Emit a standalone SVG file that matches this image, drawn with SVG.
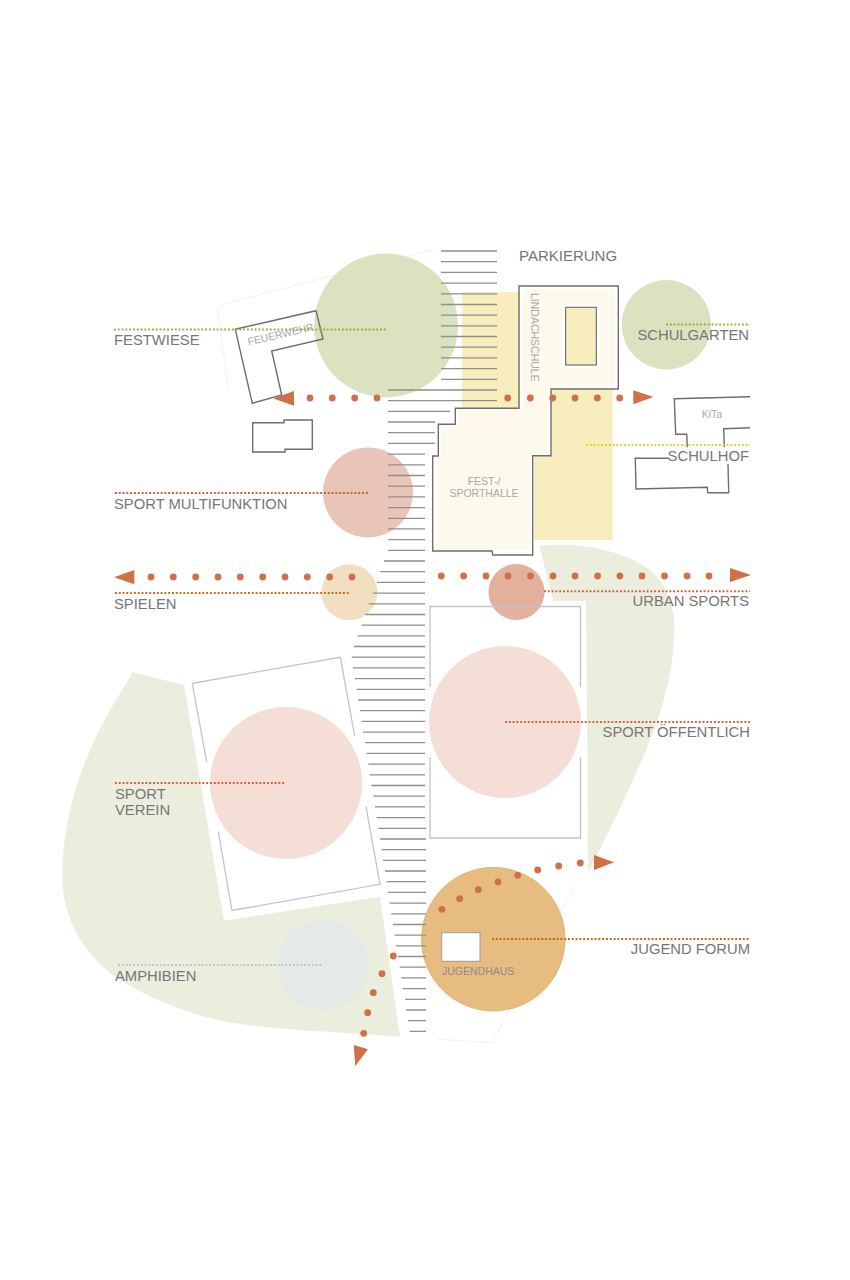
<svg xmlns="http://www.w3.org/2000/svg" width="850" height="1280" viewBox="0 0 850 1280">
<style>
text{font-family:"Liberation Sans",Arial,sans-serif}
.lb{font-size:14.8px;fill:#767676}
.sm{font-size:10.5px;fill:#a8a8a8}
.bld{fill:none;stroke:#6e6e6e;stroke-width:1.4}
.fld{fill:none;stroke:#c4c4c4;stroke-width:1.3}
.faint{fill:none;stroke:#e6e6e6;stroke-width:1;stroke-dasharray:1.5 1.5}
.dl{fill:none;stroke-width:1.9;stroke-dasharray:1.9 1.9}
.dot{fill:#cf7049}
.dot circle{r:3.4px}
.yel{fill:#f8edbd}
.gr{fill:#ebeedd}
</style>
<rect width="850" height="1280" fill="#fff"/>
<g id="backgrounds">
<path class="gr" d="M539.3,545.7C575,542 620,548 650,570C668,585 675,610 674.3,630C674,665 665,705 650,740C632,785 610,830 588.3,872L586,601H553.3Z"/>
<path class="gr" d="M132.7,672.3L184,685L224,920.7L380,896.7L400,1036.7C345,1032 290,1031 233,1023C190,1016 140,995 110,973C80,948 62,915 62.3,875C62.5,830 75,785 88,755C100,725 118,697 132.7,672.3Z"/>
<path class="yel" d="M462,292H520V408H462Z"/>
<path class="yel" d="M551,389H612.7V540H534V456H551Z"/>
</g>
<g id="site-outlines">
<path class="faint" d="M435,249L224,304Q217,306 218,312L228,387"/>
<path class="faint" d="M574,887L492,1043L437,1039"/>
</g>
<g id="festwiese"><circle cx="386" cy="325.5" r="72" fill="#dbe2bf"/></g>
<g id="schulgarten"><circle cx="666.3" cy="324.7" r="44.7" fill="#dbe2bf"/></g>
<g id="sport-multifunktion"><circle cx="368" cy="492.5" r="45" fill="#e8c5b7"/></g>
<g id="spielen"><circle cx="349.3" cy="592.3" r="28" fill="#f2dfc2"/></g>
<g id="urban-sports"><circle cx="516.5" cy="592" r="28" fill="#e3b09c"/></g>
<g id="sport-verein-field">
<path class="fld" d="M206.7,762L192.3,683.3L340.3,657.3L354.7,736M366,806.7L380,884.3L232,910.5L218.3,831.7"/>
<circle cx="286" cy="783" r="76" fill="#f4ded6"/>
</g>
<g id="sport-oeffentlich-field">
<path class="fld" d="M430,687V606.5H580.5V687M430,757V838H580.5V757"/>
<circle cx="505" cy="722" r="76" fill="#f4ded6"/>
</g>
<g id="amphibien"><circle cx="323" cy="965" r="45.5" fill="#e3eae8"/></g>
<g id="jugend-forum"><circle cx="493.3" cy="939.2" r="71.7" fill="#e6bc80" stroke="#e4b26c" stroke-width="1"/></g>
<g id="parkierung-stripes">
<path fill="none" stroke="#8f8f8f" stroke-width="1.3" d="M441,251H497M441,261.7H497M441,272.4H497M441,283.1H497M441,293.8H497M441,304.5H497M441,315.1H497M441,325.8H497M441,336.5H497M441,347.2H497M441,357.9H497M441,368.6H497M441,379.3H497M388,390H497M388,400.7H497M388,411.4H450M388,422H435M388,432.7H435M388,443.4H435M388,454.1H425M388,464.8H425M388,475.5H425M388,486.2H425M388,496.9H425M388,507.6H425M388,518.3H425M388,528.9H425M388.7,539.6H425M388,550.3H425M384,561H425M380.3,571.7H425M377,582.4H425M373,593.1H425M369,603.8H425M365.3,614.5H425M361.7,625.2H425M357.7,635.8H425M354,646.5H425M351.7,657.2H425M353,667.9H425M355,678.6H425M356.7,689.3H425M358.3,700H425M360,710.7H425M361.7,721.4H425M363,732.1H425M365,742.7H425M366.7,753.4H425M368.3,764.1H425M369.7,774.8H425M371.3,785.5H425M373.3,796.2H425M375,806.9H425M376.7,817.6H425M378.3,828.3H426M380,839H426M381.7,849.6H426M383,860.3H426M385,871H426M386.7,881.7H426M388,892.4H426M389.7,903.1H426M391.3,913.8H426M393,924.5H426M394.7,935.2H426M396,945.9H426M398,956.5H426M399.7,967.2H426M401.3,977.9H426M403,988.6H426M405,999.3H426M406.3,1010H426M408,1020.7H426M409.7,1031.4H426"/>
</g>
<g id="lindachschule">
<path d="M522,289H615V386H548.5V453H530V550H436V459H441V427H458V411H522Z" fill="#fdf9ec"/>
<path class="bld" d="M519,286H618.3V389H551V455.7H532.7V555H492.7L492,551H432.7V456H438.3V424.3H455.3V408.3H519Z"/>
<rect x="562" y="304" width="38" height="64" fill="#fff"/>
<rect x="565.7" y="307.3" width="30.6" height="57.7" fill="#f8edbd" stroke="#5a5a5a" stroke-width="1"/>
<text class="sm" transform="translate(530.5,293) rotate(90)">LINDACHSCHULE</text>
<text class="sm" x="484" y="485" text-anchor="middle">FEST-/</text>
<text class="sm" x="484" y="497" text-anchor="middle">SPORTHALLE</text>
</g>
<g id="feuerwehr">
<path class="bld" d="M235.3,329.3L316,310.7L323,339L271.7,351L281.7,395L252.3,403.3Z"/>
<text class="sm" transform="translate(248.5,345.5) rotate(-13)">FEUERWEHR</text>
</g>
<g id="nebenbau"><path class="bld" d="M252.7,422.7H284V420H312.3V449.3H285V452H252.7Z"/></g>
<g id="kita">
<path class="bld" d="M750,396.7L674.3,398.7L675.7,434.3H686.7L687.3,447.3M724.3,447.3L723.7,428.7L750,427.7M669,458.3H635.3L636,489L707.3,487.3L707.7,492.7H728.7L728,464"/>
<text class="sm" x="712" y="418" text-anchor="middle">KiTa</text>
</g>
<g id="jugendhaus">
<rect x="441.7" y="932.7" width="38.3" height="28.6" fill="#fff" stroke="#9a9a9a" stroke-width="1"/>
<text class="sm" x="442" y="975" style="fill:#8c8c8c">JUGENDHAUS</text>
</g>
<g id="connectors">
<path class="dl" stroke="#9aaf3c" d="M114,329.5H386"/>
<path class="dl" stroke="#9aaf3c" d="M666,324.5H750"/>
<path class="dl" stroke="#eec92f" d="M586,445H750"/>
<path class="dl" stroke="#c9603c" d="M115,493H369"/>
<path class="dl" stroke="#cf6b12" d="M115,593H350"/>
<path class="dl" stroke="#cf6040" d="M544,591.3H750"/>
<path class="dl" stroke="#cf6040" d="M505,722H750"/>
<path class="dl" stroke="#cf6040" d="M115,783H286"/>
<path class="dl" stroke="#b4c4d0" d="M118,965H323"/>
<path class="dl" stroke="#c9640c" d="M492,939H750"/>
<g class="dot">
<circle cx="310" cy="398" r="3.4"/><circle cx="332.3" cy="398" r="3.4"/><circle cx="354.7" cy="398" r="3.4"/><circle cx="377" cy="398" r="3.4"/>
<circle cx="507.7" cy="398" r="3.4"/><circle cx="530.3" cy="398" r="3.4"/><circle cx="552.7" cy="398" r="3.4"/><circle cx="575" cy="398" r="3.4"/><circle cx="597.3" cy="398" r="3.4"/><circle cx="619.7" cy="398" r="3.4"/>
<circle cx="151" cy="577" r="3.4"/><circle cx="173.3" cy="577" r="3.4"/><circle cx="195.7" cy="577" r="3.4"/><circle cx="218" cy="577" r="3.4"/><circle cx="240.3" cy="577" r="3.4"/><circle cx="262.7" cy="577" r="3.4"/><circle cx="285" cy="577" r="3.4"/><circle cx="307.3" cy="577" r="3.4"/><circle cx="329.7" cy="577" r="3.4"/><circle cx="352" cy="577" r="3.4"/>
<circle cx="441.3" cy="576" r="3.4"/><circle cx="463.6" cy="576" r="3.4"/><circle cx="486" cy="576" r="3.4"/><circle cx="508" cy="576" r="3.4"/><circle cx="530.6" cy="576" r="3.4"/><circle cx="553" cy="576" r="3.4"/><circle cx="575" cy="576" r="3.4"/><circle cx="597.6" cy="576" r="3.4"/><circle cx="619.9" cy="576" r="3.4"/><circle cx="642" cy="576" r="3.4"/><circle cx="664.5" cy="576" r="3.4"/><circle cx="687" cy="576" r="3.4"/><circle cx="709" cy="576" r="3.4"/>
<circle cx="442" cy="909.3" r="3.4"/><circle cx="459.7" cy="898.7" r="3.4"/><circle cx="478.3" cy="889.7" r="3.4"/><circle cx="498" cy="882" r="3.4"/><circle cx="517.7" cy="875.3" r="3.4"/><circle cx="537.7" cy="870" r="3.4"/><circle cx="558.7" cy="866" r="3.4"/><circle cx="580.3" cy="863" r="3.4"/>
<circle cx="393.3" cy="956" r="3.4"/><circle cx="382" cy="973.7" r="3.4"/><circle cx="373.3" cy="992.7" r="3.4"/><circle cx="367.7" cy="1012.7" r="3.4"/><circle cx="363.7" cy="1033.3" r="3.4"/>
<path d="M273.3,398.5L294,391V405.7Z"/>
<path d="M633.3,390.3V404.3L653.3,397Z"/>
<path d="M114,577.3L134.3,570V584.3Z"/>
<path d="M730,568V582L751,575Z"/>
<path d="M594,855V870L614,862.3Z"/>
<path d="M353.7,1045L368,1049.3L355.3,1066Z"/>
</g>
</g>
<g id="labels">
<text class="lb" x="519" y="261" style="font-size:15px">PARKIERUNG</text>
<text class="lb" x="114" y="345">FESTWIESE</text>
<text class="lb" x="749" y="340" text-anchor="end">SCHULGARTEN</text>
<text class="lb" x="749" y="460.5" text-anchor="end">SCHULHOF</text>
<text class="lb" x="114" y="509">SPORT MULTIFUNKTION</text>
<text class="lb" x="114" y="609">SPIELEN</text>
<text class="lb" x="749" y="606" text-anchor="end">URBAN SPORTS</text>
<text class="lb" x="750" y="737" text-anchor="end">SPORT ÖFFENTLICH</text>
<text class="lb" x="115" y="798.5">SPORT</text>
<text class="lb" x="115" y="815">VEREIN</text>
<text class="lb" x="115" y="981">AMPHIBIEN</text>
<text class="lb" x="750" y="954" text-anchor="end">JUGEND FORUM</text>
</g>
</svg>
